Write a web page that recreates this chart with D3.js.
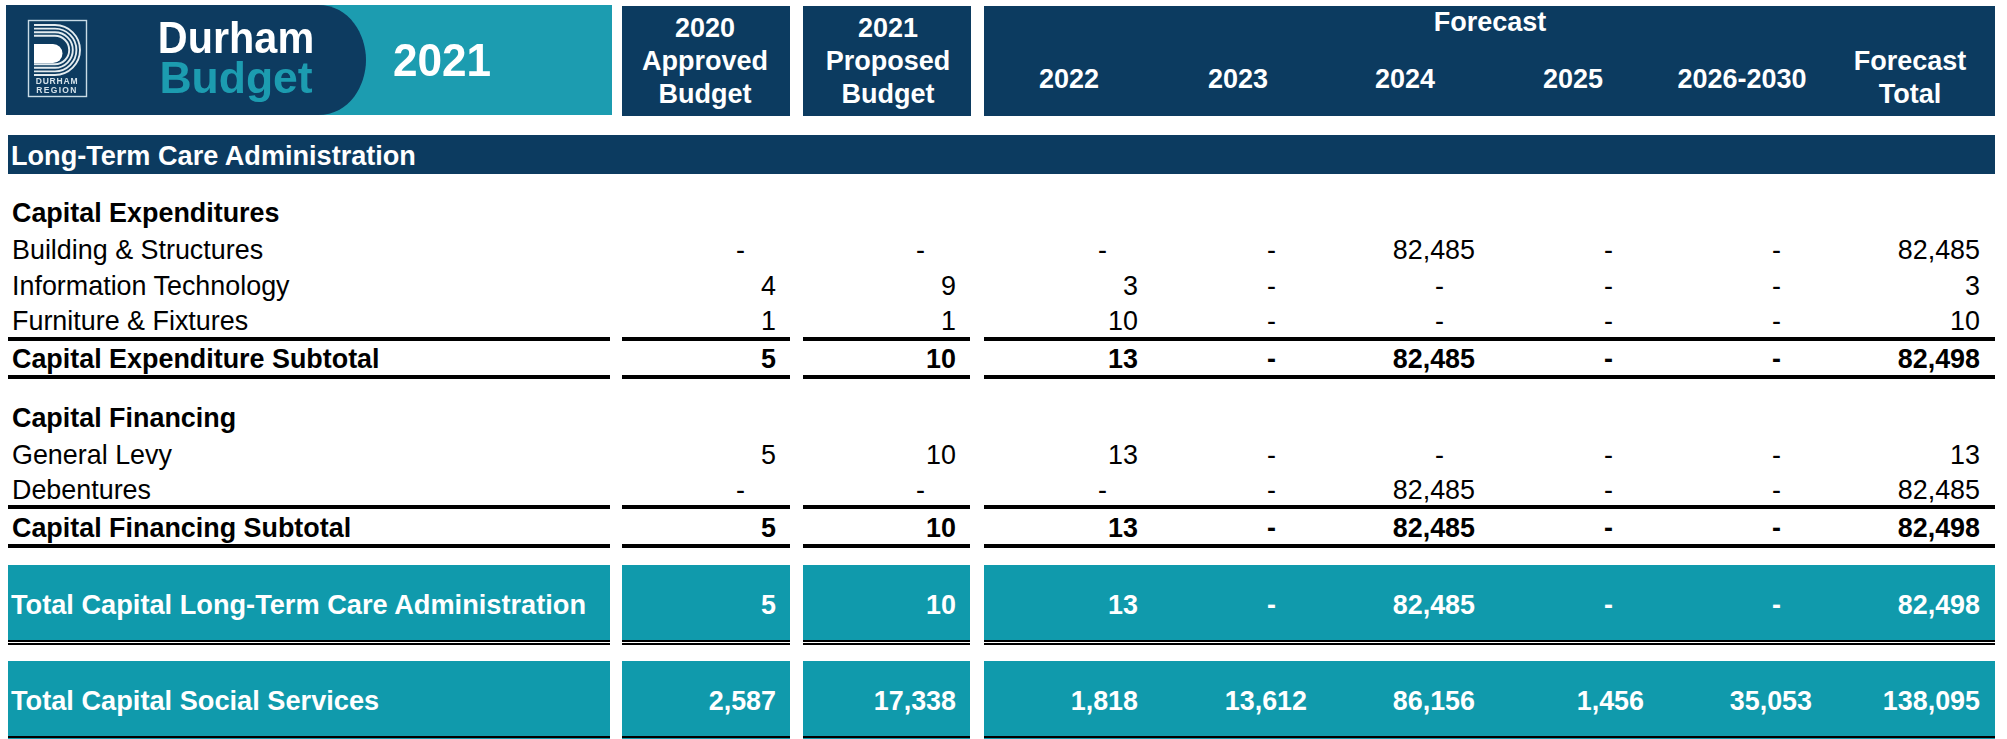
<!DOCTYPE html>
<html>
<head>
<meta charset="utf-8">
<script src="https://cdn.jsdelivr.net/npm/d3@7"></script>
<style>
  html, body { margin: 0; padding: 0; background: #fff; }
  svg { display: block; }
  text { font-family: "Liberation Sans", Arial, sans-serif; }
</style>
</head>
<body>
<script>
const columns = ["2020", "2021", "2022", "2023", "2024", "2025", "2026-2030", "Total"];

const buildingStructures = [null, null, null, null, 82485, null, null, 82485];
const informationTechnology = [4, 9, 3, null, null, null, null, 3];
const furnitureFixtures = [1, 1, 10, null, null, null, null, 10];
const expenditureSubtotal = [5, 10, 13, null, 82485, null, null, 82498];
const generalLevy = [5, 10, 13, null, null, null, null, 13];
const debentures = [null, null, null, null, 82485, null, null, 82485];
const financingSubtotal = [5, 10, 13, null, 82485, null, null, 82498];
const totalLongTermCare = [5, 10, 13, null, 82485, null, null, 82498];
const totalSocialServices = [2587, 17338, 1818, 13612, 86156, 1456, 35053, 138095];

const forecastYears = ["2022", "2023", "2024", "2025", "2026-2030"];

const navy = "#0c3b60";
const teal = "#109aac";
const bannerTeal = "#1f9cb0";

const svg = d3.select("body")
  .append("svg")
  .attr("width", 2007)
  .attr("height", 739);

const defs = svg.append("defs");
defs.append("filter")
  .attr("id", "soft")
  .append("feGaussianBlur")
  .attr("stdDeviation", 0.6);

// right edge of each number column
const colRight = d3.scaleOrdinal()
  .domain(columns)
  .range([776, 956, 1138, 1307, 1475, 1644, 1812, 1980]);

// the four blocks the rules and bands are cut into
const blocks = [[8, 610], [622, 790], [803, 970], [984, 1995]];

const fmt = d3.format(",");
const bodySize = 26.9;
const headSize = 27;

function addText(parent, x, y, str, size, weight, fill, anchor) {
  return parent.append("text")
    .attr("x", x)
    .attr("y", y)
    .attr("font-size", size)
    .attr("font-weight", weight)
    .attr("fill", fill)
    .attr("text-anchor", anchor || "start")
    .text(str);
}

// banner lettering is taller and narrower than the plain font
function squeezed(parent, x, y, str, size, fill, sx) {
  return addText(parent, 0, 0, str, size, "bold", fill, "middle")
    .attr("transform", `translate(${x},${y}) scale(${sx},1)`);
}

// Banner
const banner = svg.append("g").attr("filter", "url(#soft)");
banner.append("rect")
  .attr("x", 6).attr("y", 5).attr("width", 606).attr("height", 110)
  .attr("fill", bannerTeal);
banner.append("path")
  .attr("d", "M6,5 H318 C350,5 366,35 366,60 C366,85 350,115 318,115 H6 Z")
  .attr("fill", navy);

// Logo
banner.append("rect")
  .attr("x", 28.5).attr("y", 20.5).attr("width", 58).attr("height", 76)
  .attr("fill", "none").attr("stroke", "#c9dbe6").attr("stroke-width", 1.4);
[25, 21.4, 17.8, 14.2].forEach((r) => {
  banner.append("path")
    .attr("d", `M34,${50 - r} H55 A${r},${r} 0 0 1 55,${50 + r} H34`)
    .attr("fill", "none")
    .attr("stroke", "#e4ecf0")
    .attr("stroke-width", 1.9);
});
banner.append("path")
  .attr("d", "M34,44 H53 A9.5,9.5 0 0 1 53,63 H34 Z")
  .attr("fill", "#fff");
addText(banner, 57, 84, "DURHAM", 8.5, "bold", "#d5e2ea", "middle").attr("letter-spacing", 0.8);
addText(banner, 57, 92.5, "REGION", 8.5, "bold", "#d5e2ea", "middle").attr("letter-spacing", 1.3);

squeezed(banner, 236, 53, "Durham", 44.5, "#fff", 0.93);
squeezed(banner, 236, 93, "Budget", 44.5, bannerTeal, 1);
squeezed(banner, 442, 76, "2021", 46, "#fff", 0.96);

// Header boxes
svg.selectAll("rect.head")
  .data([[622, 790], [803, 971], [984, 1995]])
  .join("rect")
  .attr("class", "head")
  .attr("x", (d) => d[0])
  .attr("y", 6)
  .attr("width", (d) => d[1] - d[0])
  .attr("height", 110)
  .attr("fill", navy);

addText(svg, 705, 37, "2020", headSize, "bold", "#fff", "middle");
addText(svg, 705, 70, "Approved", headSize, "bold", "#fff", "middle");
addText(svg, 705, 103, "Budget", headSize, "bold", "#fff", "middle");
addText(svg, 888, 37, "2021", headSize, "bold", "#fff", "middle");
addText(svg, 888, 70, "Proposed", headSize, "bold", "#fff", "middle");
addText(svg, 888, 103, "Budget", headSize, "bold", "#fff", "middle");
addText(svg, 1490, 31, "Forecast", headSize, "bold", "#fff", "middle");
addText(svg, 1910, 70, "Forecast", headSize, "bold", "#fff", "middle");
addText(svg, 1910, 103, "Total", headSize, "bold", "#fff", "middle");

const yearX = d3.scaleOrdinal()
  .domain(forecastYears)
  .range([1069, 1238, 1405, 1573, 1742]);
svg.selectAll("text.year")
  .data(forecastYears)
  .join("text")
  .attr("class", "year")
  .attr("x", (d) => yearX(d))
  .attr("y", 88)
  .attr("font-size", headSize)
  .attr("font-weight", "bold")
  .attr("fill", "#fff")
  .attr("text-anchor", "middle")
  .text((d) => d);

// Section bar
svg.append("rect")
  .attr("x", 8).attr("y", 135).attr("width", 1987).attr("height", 39)
  .attr("fill", navy);
addText(svg, 11, 165, "Long-Term Care Administration", 27.1, "bold", "#fff");

// Bands for the two totals
[[565, 75], [661, 75]].forEach((b) => {
  svg.selectAll(null)
    .data(blocks)
    .join("rect")
    .attr("x", (d) => d[0])
    .attr("y", b[0])
    .attr("width", (d) => d[1] - d[0])
    .attr("height", b[1])
    .attr("fill", teal);
});

// Rules: [y, height]
const rules = [[337, 4], [375, 4], [505, 4], [544, 4], [640, 2], [643, 2], [736, 2]];
rules.forEach((r) => {
  svg.selectAll(null)
    .data(blocks)
    .join("rect")
    .attr("x", (d) => d[0])
    .attr("y", r[0])
    .attr("width", (d) => d[1] - d[0])
    .attr("height", r[1])
    .attr("fill", "#000");
});
svg.selectAll(null)
  .data(blocks)
  .join("rect")
  .attr("x", (d) => d[0])
  .attr("y", 738)
  .attr("width", (d) => d[1] - d[0])
  .attr("height", 1)
  .attr("fill", teal);

// Section headings
addText(svg, 12, 222, "Capital Expenditures", bodySize, "bold", "#000");
addText(svg, 12, 427, "Capital Financing", bodySize, "bold", "#000");

// Table rows
const rows = [
  { label: "Building & Structures", values: buildingStructures, y: 259 },
  { label: "Information Technology", values: informationTechnology, y: 295 },
  { label: "Furniture & Fixtures", values: furnitureFixtures, y: 330 },
  { label: "Capital Expenditure Subtotal", values: expenditureSubtotal, y: 368, bold: true },
  { label: "General Levy", values: generalLevy, y: 464 },
  { label: "Debentures", values: debentures, y: 499 },
  { label: "Capital Financing Subtotal", values: financingSubtotal, y: 537, bold: true },
  { label: "Total Capital Long-Term Care Administration", values: totalLongTermCare, y: 614, bold: true, light: true, labelSize: 27.2 },
  { label: "Total Capital Social Services", values: totalSocialServices, y: 710, bold: true, light: true, labelSize: 27.2 }
];

rows.forEach((row) => {
  const color = row.light ? "#fff" : "#000";
  const weight = row.bold ? "bold" : "normal";
  addText(svg, row.light ? 11 : 12, row.y, row.label, row.labelSize || bodySize, weight, color);

  svg.selectAll(null)
    .data(row.values)
    .join("text")
    // accounting format: the dash sits in from the right edge
    .attr("x", (d, i) => colRight(columns[i]) - (d === null ? 31 : 0))
    .attr("y", row.y)
    .attr("font-size", bodySize)
    .attr("font-weight", weight)
    .attr("fill", color)
    .attr("text-anchor", "end")
    .text((d) => d === null ? "-" : fmt(d));
});
</script>
</body>
</html>
